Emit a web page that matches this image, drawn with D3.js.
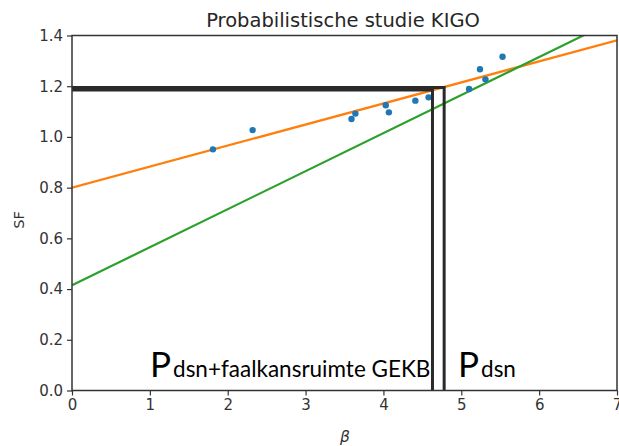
<!DOCTYPE html>
<html>
<head>
<meta charset="utf-8">
<script src="https://cdn.jsdelivr.net/npm/d3@7"></script>
<style>
  html, body { margin: 0; padding: 0; background: #fff; }
  svg { display: block; }
</style>
</head>
<body>
<svg id="chart" width="619" height="446"></svg>
<script>
// Observations: reliability index β against safety factor SF
const betaValues = [1.81, 2.32, 3.59, 3.64, 4.03, 4.07, 4.41, 4.58, 5.10, 5.24, 5.31, 5.53];
const sfValues   = [0.951, 1.027, 1.071, 1.092, 1.125, 1.097, 1.143, 1.156, 1.189, 1.267, 1.227, 1.316];

// Fitted relations, as end points [β, SF]
const orangeLine = [[0, 0.80], [7, 1.381]];
const greenLine  = [[0, 0.415], [7, 1.465]];

// Read-off levels for the two requirements
const markerNames = ["Pdsn+faalkansruimte GEKB", "Pdsn"];
const markerBeta  = [4.63, 4.78];
const markerSF    = [1.185, 1.195];

const xTicks = [0, 1, 2, 3, 4, 5, 6, 7];
const yTicks = [0.0, 0.2, 0.4, 0.6, 0.8, 1.0, 1.2, 1.4];

const svg = d3.select("#chart");
const m = { left: 72, right: 617, top: 35.5, bottom: 390.5 };

const x = d3.scaleLinear().domain([0, 7]).range([m.left, m.right]);
const y = d3.scaleLinear().domain([0, 1.4]).range([m.bottom, m.top]);

svg.append("defs").append("clipPath").attr("id", "plotClip")
  .append("rect")
  .attr("x", m.left).attr("y", m.top)
  .attr("width", m.right - m.left).attr("height", m.bottom - m.top);

const plot = svg.append("g").attr("clip-path", "url(#plotClip)");

const line = d3.line().x(d => x(d[0])).y(d => y(d[1]));

plot.append("path").datum(orangeLine)
  .attr("d", line).attr("fill", "none")
  .attr("stroke", "#ff7f0e").attr("stroke-width", 2.3);

plot.append("path").datum(greenLine)
  .attr("d", line).attr("fill", "none")
  .attr("stroke", "#2ca02c").attr("stroke-width", 2.2);

// Scatter points
plot.selectAll("circle.obs").data(betaValues)
  .enter().append("circle").attr("class", "obs")
  .attr("cx", d => x(d))
  .attr("cy", (d, i) => y(sfValues[i]))
  .attr("r", 3.2)
  .attr("fill", "#1f77b4");

// Read-off lines: horizontal from the SF axis, vertical down to β axis
markerBeta.forEach((b, i) => {
  const g = svg.append("g").attr("stroke", "#2a2a2a").attr("stroke-width", 3).attr("fill", "none");
  g.append("line")
    .attr("x1", x(0)).attr("x2", x(b))
    .attr("y1", y(markerSF[i])).attr("y2", y(markerSF[i]));
  g.append("line")
    .attr("x1", x(b)).attr("x2", x(b))
    .attr("y1", y(markerSF[i]) - 1.5).attr("y2", y(0));
});

// Axes
const xAxis = d3.axisBottom(x).tickValues(xTicks).tickFormat(d3.format("d")).tickSize(5).tickPadding(4);
const yAxis = d3.axisLeft(y).tickValues(yTicks).tickFormat(d3.format(".1f")).tickSize(5).tickPadding(4);

const gx = svg.append("g").attr("transform", `translate(0,${m.bottom})`).call(xAxis);
const gy = svg.append("g").attr("transform", `translate(${m.left},0)`).call(yAxis);
[gx, gy].forEach(g => {
  g.select(".domain").remove();
  g.selectAll("line").attr("stroke", "#333").attr("stroke-width", 1.2);
  g.selectAll("text")
    .attr("fill", "#333")
    .style("font-family", "DejaVu Sans, sans-serif")
    .style("font-size", "15px");
});

// Frame
svg.append("rect")
  .attr("x", m.left).attr("y", m.top)
  .attr("width", m.right - m.left).attr("height", m.bottom - m.top)
  .attr("fill", "none").attr("stroke", "#333").attr("stroke-width", 1.5);

// Title and axis labels
svg.append("text")
  .attr("x", 343).attr("y", 27)
  .attr("text-anchor", "middle")
  .attr("fill", "#262626")
  .style("font-family", "DejaVu Sans, sans-serif")
  .style("font-size", "19.5px")
  .text("Probabilistische studie KIGO");

svg.append("text")
  .attr("transform", "translate(24,220) rotate(-90)")
  .attr("text-anchor", "middle")
  .attr("fill", "#333")
  .style("font-family", "DejaVu Sans, sans-serif")
  .style("font-size", "14.5px")
  .text("SF");

svg.append("text")
  .attr("x", 345).attr("y", 442)
  .attr("text-anchor", "middle")
  .attr("fill", "#333")
  .style("font-family", "DejaVu Sans, sans-serif")
  .style("font-size", "15.5px")
  .style("font-style", "italic")
  .text("β");

// Requirement labels: large P with subscript
const labelX = [150, 458];
markerNames.forEach((name, i) => {
  const t = svg.append("text")
    .attr("x", labelX[i]).attr("y", 377)
    .attr("fill", "#000")
    .style("font-family", "Lato, 'Open Sans', sans-serif");
  t.append("tspan").style("font-size", "35px").text(name.slice(0, 1));
  t.append("tspan").attr("dx", 2).style("font-size", "22.5px").text(name.slice(1));
});
</script>
</body>
</html>
